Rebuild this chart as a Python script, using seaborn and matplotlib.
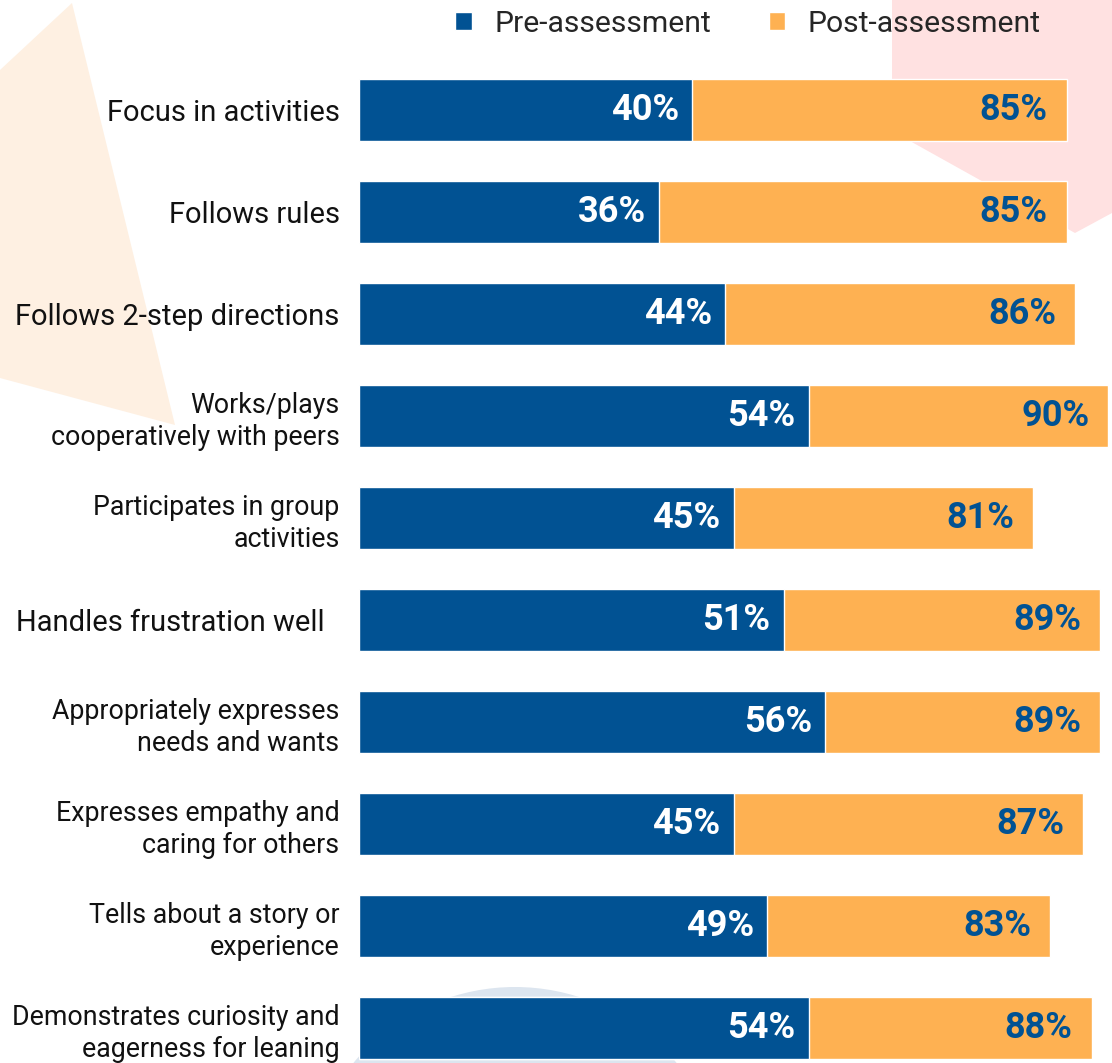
import pandas as pd
import seaborn as sns
import matplotlib.pyplot as plt
from matplotlib.patches import Polygon, Circle, Patch

# chart data
skills = [
    "Focus in activities",
    "Follows rules",
    "Follows 2-step directions",
    "Works/plays\ncooperatively with peers",
    "Participates in group\nactivities",
    "Handles frustration well  ",
    "Appropriately expresses\nneeds and wants",
    "Expresses empathy and\ncaring for others",
    "Tells about a story or\nexperience",
    "Demonstrates curiosity and\neagerness for leaning",
]
pre_values = [40, 36, 44, 54, 45, 51, 56, 45, 49, 54]
post_values = [85, 85, 86, 90, 81, 89, 89, 87, 83, 88]

BLUE = "#015293"
ORANGE = "#FEB152"

df = pd.DataFrame({"skill": skills, "pre": pre_values, "post": post_values})

sns.set_theme(style="white")
plt.rcParams["font.family"] = ["Roboto", "DejaVu Sans"]

W, H = 1112, 1063
fig = plt.figure(figsize=(W / 100, H / 100), dpi=100)

# decorative background shapes, on a full-figure axes in pixel units
bg = fig.add_axes([0, 0, 1, 1], zorder=-1)
bg.set_xlim(0, W)
bg.set_ylim(H, 0)
bg.axis("off")
bg.add_patch(Polygon([(0, 70), (72, 3), (175, 425), (0, 378)],
                     facecolor="#FEF0E2", edgecolor="none"))
bg.add_patch(Polygon([(892, 0), (1112, 0), (1112, 213), (1075, 233), (892, 131)],
                     facecolor="#FFE1E1", edgecolor="none"))
bg.add_patch(Circle((515, 1197), 210, facecolor="#DCE5EF", edgecolor="none"))

ax = fig.add_axes([359 / W, 0, 1 - 359 / W, 1])
ax.patch.set_alpha(0)

sns.barplot(data=df, y="skill", x="post", color=ORANGE, width=0.61,
            orient="h", ax=ax, saturation=1, zorder=2)
sns.barplot(data=df, y="skill", x="pre", color=BLUE, width=0.61,
            orient="h", ax=ax, saturation=1, zorder=3)

for i, (p, q) in enumerate(zip(pre_values, post_values)):
    ax.annotate(f"{p}%", (p, i), xytext=(-13, 0), textcoords="offset pixels",
                ha="right", va="center", color="white", fontsize=26,
                fontweight="bold", zorder=4)
    ax.annotate(f"{q}%", (q, i), xytext=(-19, 0), textcoords="offset pixels",
                ha="right", va="center", color=BLUE, fontsize=26,
                fontweight="bold", zorder=4)

ax.set_xlim(0, (W - 359) / 8.325)
ax.set_ylim((H - 110) / 102, -110 / 102)
ax.set_xlabel("")
ax.set_ylabel("")
ax.set_xticks([])
ax.tick_params(axis="y", length=0, pad=14, labelsize=21, labelcolor="#111111")
for lab in ax.get_yticklabels():
    if "\n" in lab.get_text():
        lab.set_fontsize(19.3)
        lab.set_linespacing(1.22)
sns.despine(ax=ax, left=True, bottom=True)

handles = [Patch(facecolor=BLUE, label="Pre-assessment"),
           Patch(facecolor=ORANGE, label="Post-assessment")]
fig.legend(handles=handles, loc="center", bbox_to_anchor=(748 / W, 1 - 24 / H),
           ncol=2, frameon=False, fontsize=21.7, handlelength=0.55,
           handleheight=0.55, handletextpad=0.75, columnspacing=1.9)

fig.savefig("out.png", dpi=100)
